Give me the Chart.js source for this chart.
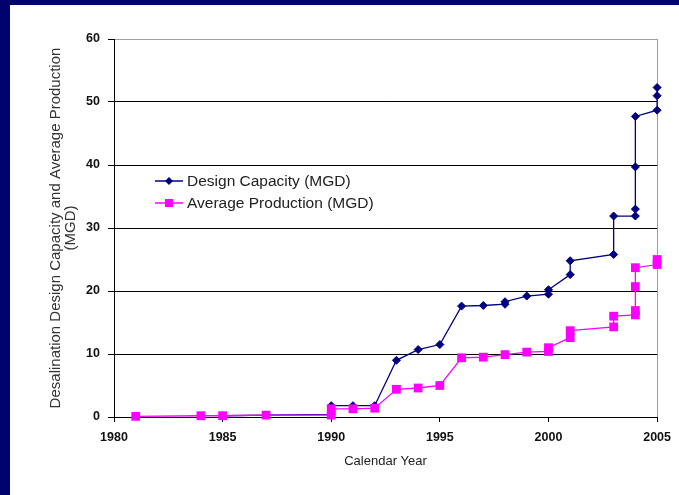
<!DOCTYPE html>
<html>
<head>
<meta charset="utf-8">
<script src="https://cdn.jsdelivr.net/npm/chart.js@4/dist/chart.umd.min.js"></script>
<style>
  html, body { margin: 0; padding: 0; background: #ffffff; }
  #wrap { position: relative; width: 679px; height: 495px; }
</style>
</head>
<body>
<div id="wrap"><canvas id="chart" width="679" height="495"></canvas></div>
<script>
// Desalination design capacity and average production, million gallons per day
const capacityYears = [1985, 1987, 1990, 1990, 1991, 1992, 1993, 1994, 1995, 1996, 1997, 1998, 1998, 1999, 2000, 2000, 2001, 2001, 2003, 2003, 2004, 2004, 2004, 2004, 2005, 2005, 2005];
const capacityValues = [0.2, 0.3, 0.4, 1.8, 1.8, 1.8, 9.0, 10.7, 11.5, 17.6, 17.7, 17.9, 18.3, 19.2, 19.5, 20.2, 22.6, 24.8, 25.8, 31.9, 31.9, 33.0, 39.7, 47.7, 48.7, 51.0, 52.3];

const productionYears = [1981, 1984, 1985, 1987, 1990, 1990, 1991, 1992, 1993, 1994, 1995, 1996, 1997, 1998, 1999, 2000, 2000, 2001, 2001, 2003, 2003, 2004, 2004, 2004, 2004, 2005, 2005];
const productionValues = [0.1, 0.2, 0.2, 0.3, 0.3, 1.3, 1.3, 1.4, 4.4, 4.6, 5.0, 9.4, 9.5, 9.9, 10.3, 10.4, 11.0, 12.6, 13.7, 14.3, 16.0, 16.2, 16.9, 20.7, 23.7, 24.2, 25.0];

const seriesLabels = ['Design Capacity (MGD)', 'Average Production (MGD)'];
const xTitle = 'Calendar Year';
const yTitle = ['Desalination Design Capacity and Average Production', '(MGD)'];

const NAVY = '#000080';
const MAGENTA = '#ff00ff';
const FONT = '"Liberation Sans", Arial, sans-serif';

const toPoints = (xs, ys) => xs.map((x, i) => ({ x: x, y: ys[i] }));

// Slide frame: white page with a dark band along the top and left edges
const framePlugin = {
  id: 'frame',
  beforeDraw(chart) {
    const ctx = chart.ctx;
    ctx.save();
    ctx.fillStyle = '#ffffff';
    ctx.fillRect(0, 0, chart.width, chart.height);
    ctx.fillStyle = '#02026c';
    ctx.fillRect(0, 0, chart.width, 5);
    ctx.fillRect(0, 0, 10, chart.height);
    ctx.restore();
  }
};

// Legend drawn inside the plot area, built from the datasets
const innerLegend = {
  id: 'innerLegend',
  afterDraw(chart) {
    const ctx = chart.ctx;
    const x0 = 155, x1 = 183, xm = 169, tx = 187;
    const rows = [181, 203];
    ctx.save();
    chart.data.datasets.forEach((ds, i) => {
      const y = rows[i];
      ctx.strokeStyle = ds.borderColor;
      ctx.lineWidth = 1.5;
      ctx.beginPath();
      ctx.moveTo(x0, y);
      ctx.lineTo(x1, y);
      ctx.stroke();
      ctx.fillStyle = ds.pointBackgroundColor;
      ctx.beginPath();
      if (ds.pointStyle === 'rectRot') {
        const r = 4;
        ctx.moveTo(xm - r, y);
        ctx.lineTo(xm, y - r);
        ctx.lineTo(xm + r, y);
        ctx.lineTo(xm, y + r);
        ctx.closePath();
      } else {
        ctx.rect(xm - 4, y - 4, 8, 8);
      }
      ctx.fill();
      ctx.fillStyle = '#222222';
      ctx.font = '15.5px ' + FONT;
      ctx.textBaseline = 'middle';
      ctx.textAlign = 'left';
      ctx.fillText(ds.label, tx, y + 1);
    });
    ctx.restore();
  }
};

new Chart(document.getElementById('chart'), {
  type: 'line',
  data: {
    datasets: [
      {
        label: seriesLabels[0],
        data: toPoints(capacityYears, capacityValues),
        borderColor: NAVY,
        backgroundColor: NAVY,
        pointBackgroundColor: NAVY,
        pointBorderColor: NAVY,
        borderWidth: 1.3,
        pointStyle: 'rectRot',
        pointRadius: 4,
        pointBorderWidth: 1,
        tension: 0,
        clip: false,
        order: 1
      },
      {
        label: seriesLabels[1],
        data: toPoints(productionYears, productionValues),
        borderColor: MAGENTA,
        backgroundColor: MAGENTA,
        pointBackgroundColor: MAGENTA,
        pointBorderColor: MAGENTA,
        borderWidth: 1.3,
        pointStyle: 'rect',
        pointRadius: 6.2,
        pointBorderWidth: 0,
        tension: 0,
        clip: false,
        order: 0
      }
    ]
  },
  options: {
    responsive: false,
    animation: false,
    devicePixelRatio: 1,
    layout: { padding: { left: 10, top: 39, right: 17, bottom: 0 } },
    plugins: {
      legend: { display: false },
      tooltip: { enabled: false }
    },
    scales: {
      x: {
        type: 'linear',
        min: 1980,
        max: 2005,
        afterFit(scale) { scale.height = 78; },
        ticks: {
          stepSize: 5,
          padding: 8,
          color: '#111111',
          font: { family: FONT, size: 12.5, weight: 'bold' },
          callback: (v) => String(v)
        },
        grid: {
          drawOnChartArea: true,
          drawTicks: true,
          tickLength: 5,
          color: (c) => (c.tick && c.tick.value === 2005 ? '#a0a0a0' : 'rgba(0,0,0,0)'),
          tickColor: '#000000'
        },
        border: { display: true, color: '#000000', width: 1 },
        title: {
          display: true,
          text: xTitle,
          color: '#222222',
          font: { family: FONT, size: 13, lineHeight: 1.2 },
          padding: { top: 0, bottom: 26 }
        }
      },
      y: {
        min: 0,
        max: 60,
        afterFit(scale) { scale.width = 104; },
        ticks: {
          stepSize: 10,
          padding: 8,
          color: '#111111',
          font: { family: FONT, size: 12.5, weight: 'bold' }
        },
        grid: {
          tickLength: 6,
          color: (c) => (c.tick && c.tick.value === 60 ? '#a0a0a0' : '#000000'),
          tickColor: '#000000'
        },
        border: { display: true, color: '#000000', width: 1 },
        title: {
          display: true,
          text: yTitle,
          color: '#333333',
          font: { family: FONT, size: 15, lineHeight: 0.98 },
          padding: { top: 39, bottom: 0 }
        }
      }
    }
  },
  plugins: [framePlugin, innerLegend]
});
</script>
</body>
</html>
